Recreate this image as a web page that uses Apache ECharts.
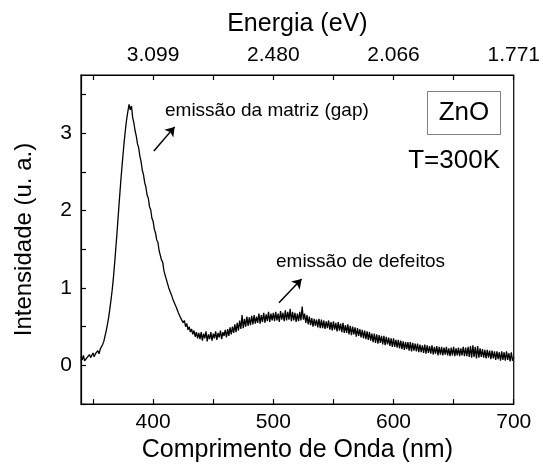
<!DOCTYPE html>
<html>
<head>
<meta charset="utf-8">
<script src="https://cdn.jsdelivr.net/npm/echarts@6/dist/echarts.min.js"></script>
<style>html,body{margin:0;padding:0;background:#fff}#c{width:543px;height:468px}</style>
</head>
<body>
<div id="c"></div>
<script>
// Wavelength grid (nm): starts at 340, one reading per nm up to 700
const startNm = 340;
const stepNm = 1;
// Intensity (u. a.), one per nm, 340..700
const intensity = [
0.11,0.07,0.13,0.06,0.05,0.10,0.08,0.14,0.10,0.12,0.16,0.11,0.15,0.13,0.19,0.15,0.21,0.19,0.27,0.31,
0.38,0.45,0.53,0.62,0.73,0.85,0.98,1.14,1.32,1.52,1.72,1.94,2.15,2.36,2.55,2.73,2.90,3.05,3.18,3.28,
3.37,3.30,3.35,3.20,3.13,3.03,2.96,2.86,2.81,2.70,2.63,2.52,2.46,2.36,2.30,2.20,2.16,2.05,2.01,1.90,
1.86,1.76,1.71,1.62,1.59,1.48,1.46,1.36,1.33,1.22,1.21,1.11,1.09,1.00,0.99,0.92,0.91,0.83,0.83,0.76,
0.75,0.68,0.69,0.61,0.63,0.55,0.58,0.50,0.54,0.46,0.50,0.43,0.47,0.40,0.45,0.37,0.43,0.35,0.42,0.34,
0.43,0.32,0.41,0.35,0.44,0.31,0.40,0.34,0.43,0.32,0.41,0.35,0.44,0.33,0.42,0.36,0.45,0.34,0.43,0.38,
0.46,0.36,0.47,0.38,0.49,0.40,0.50,0.42,0.53,0.43,0.55,0.45,0.58,0.47,0.65,0.48,0.60,0.50,0.63,0.51,
0.62,0.52,0.64,0.53,0.65,0.54,0.63,0.55,0.67,0.54,0.65,0.56,0.68,0.55,0.66,0.57,0.69,0.56,0.67,0.58,
0.68,0.57,0.69,0.58,0.67,0.56,0.70,0.59,0.68,0.57,0.71,0.58,0.69,0.59,0.73,0.57,0.69,0.58,0.68,0.56,
0.67,0.57,0.69,0.58,0.76,0.59,0.67,0.55,0.65,0.53,0.63,0.52,0.61,0.50,0.60,0.51,0.59,0.49,0.60,0.48,
0.59,0.48,0.58,0.47,0.57,0.48,0.58,0.46,0.56,0.45,0.57,0.46,0.55,0.44,0.56,0.45,0.54,0.43,0.55,0.42,
0.52,0.42,0.53,0.40,0.51,0.39,0.50,0.40,0.49,0.37,0.48,0.38,0.47,0.36,0.46,0.35,0.45,0.34,0.44,0.33,
0.43,0.32,0.41,0.30,0.41,0.29,0.40,0.28,0.39,0.29,0.38,0.27,0.38,0.26,0.37,0.27,0.36,0.25,0.35,0.24,
0.35,0.24,0.33,0.23,0.33,0.22,0.32,0.21,0.31,0.20,0.30,0.21,0.30,0.19,0.30,0.18,0.29,0.19,0.28,0.18,
0.28,0.17,0.27,0.17,0.26,0.16,0.27,0.15,0.26,0.16,0.25,0.15,0.26,0.14,0.24,0.15,0.25,0.13,0.24,0.14,
0.24,0.13,0.23,0.14,0.24,0.13,0.22,0.12,0.23,0.13,0.24,0.12,0.22,0.13,0.23,0.12,0.22,0.13,0.24,0.12,
0.23,0.12,0.24,0.11,0.25,0.10,0.26,0.11,0.24,0.09,0.25,0.10,0.22,0.11,0.21,0.10,0.20,0.09,0.20,0.10,
0.19,0.08,0.19,0.09,0.18,0.07,0.18,0.08,0.17,0.06,0.18,0.07,0.17,0.06,0.18,0.07,0.16,0.05,0.17,0.06,
0.11
];
// Axis ticks / labels
const xTickValues = [350,400,450,500,550,600,650,700];
const xLabelValues = [400,500,600,700];
const energyLabels = ['3.099','2.480','2.066','1.771'];
const yTickValues = [-0.5,0,0.5,1,1.5,2,2.5,3,3.5];
const yLabelValues = [0,1,2,3];
// Annotations (data coords)
const arrowGap = [[400.6,2.77],[417.9,3.08]];
const arrowDef = [[504.7,0.81],[523.5,1.115]];

const FONT = 'Liberation Sans, Arial, sans-serif';
const seriesData = intensity.map((v,i)=>[startNm + i*stepNm, v]);

const chart = echarts.init(document.getElementById('c'), null, {renderer:'canvas'});
const axisCommon = {
  type:'value', min:340, max:700,
  splitLine:{show:false},
  axisLine:{show:true, onZero:false, lineStyle:{color:'#000', width:1.2}},
};
chart.setOption({
  animation:false,
  backgroundColor:'#fff',
  grid:{left:81, right:28, top:75, bottom:62, show:true, borderColor:'#000', borderWidth:1.2},
  xAxis:[
    Object.assign({}, axisCommon, {
      position:'bottom',
      name:'Comprimento de Onda (nm)', nameLocation:'middle', nameGap:30,
      nameTextStyle:{fontFamily:FONT, fontSize:25, color:'#000'},
      axisTick:{show:true, inside:true, length:5, customValues:xTickValues, lineStyle:{color:'#000', width:1.2}},
      axisLabel:{customValues:xLabelValues, fontFamily:FONT, fontSize:21, color:'#000', margin:8}
    }),
    Object.assign({}, axisCommon, {
      position:'top',
      name:'Energia (eV)', nameLocation:'middle', nameGap:38,
      nameTextStyle:{fontFamily:FONT, fontSize:25, color:'#000'},
      axisTick:{show:true, inside:true, length:5, customValues:xTickValues, lineStyle:{color:'#000', width:1.2}},
      axisLabel:{customValues:xLabelValues, fontFamily:FONT, fontSize:21, color:'#000', margin:9,
        formatter:(v)=>energyLabels[xLabelValues.indexOf(v)]}
    })
  ],
  yAxis:[{
    type:'value', min:-0.5, max:3.75, position:'left',
    splitLine:{show:false},
    axisLine:{show:true, onZero:false, lineStyle:{color:'#000', width:1.2}},
    name:'Intensidade (u. a.)', nameLocation:'middle', nameGap:45,
    nameTextStyle:{fontFamily:FONT, fontSize:24, color:'#000'},
    axisTick:{show:true, inside:true, length:5, customValues:yTickValues, lineStyle:{color:'#000', width:1.2}},
    axisLabel:{customValues:yLabelValues, fontFamily:FONT, fontSize:21, color:'#000', margin:9}
  }],
  series:[{
    type:'line', data:seriesData, showSymbol:false, symbol:'none',
    lineStyle:{color:'#000', width:1.3}, xAxisIndex:0, yAxisIndex:0,
    markLine:{
      silent:true, symbol:['none','arrow'], symbolSize:9,
      lineStyle:{color:'#000', width:1.5, type:'solid'},
      label:{show:false},
      data:[
        [{coord:arrowGap[0]},{coord:arrowGap[1]}],
        [{coord:arrowDef[0]},{coord:arrowDef[1]}]
      ]
    }
  }],
  graphic:[
    {type:'text', left:165, top:101, style:{text:'emissão da matriz (gap)', font:'19px '+FONT, fill:'#000'}},
    {type:'text', left:276, top:252, style:{text:'emissão de defeitos', font:'19px '+FONT, fill:'#000'}},
    {type:'rect', shape:{x:427.5, y:91.5, width:73, height:43}, style:{fill:'#fff', stroke:'#808080', lineWidth:1}},
    {type:'text', x:464, y:113, style:{text:'ZnO', font:'26px '+FONT, fill:'#000', align:'center', verticalAlign:'middle'}},
    {type:'text', x:500, y:161, style:{text:'T=300K', font:'26px '+FONT, fill:'#000', align:'right', verticalAlign:'middle'}}
  ]
});
</script>
</body>
</html>
